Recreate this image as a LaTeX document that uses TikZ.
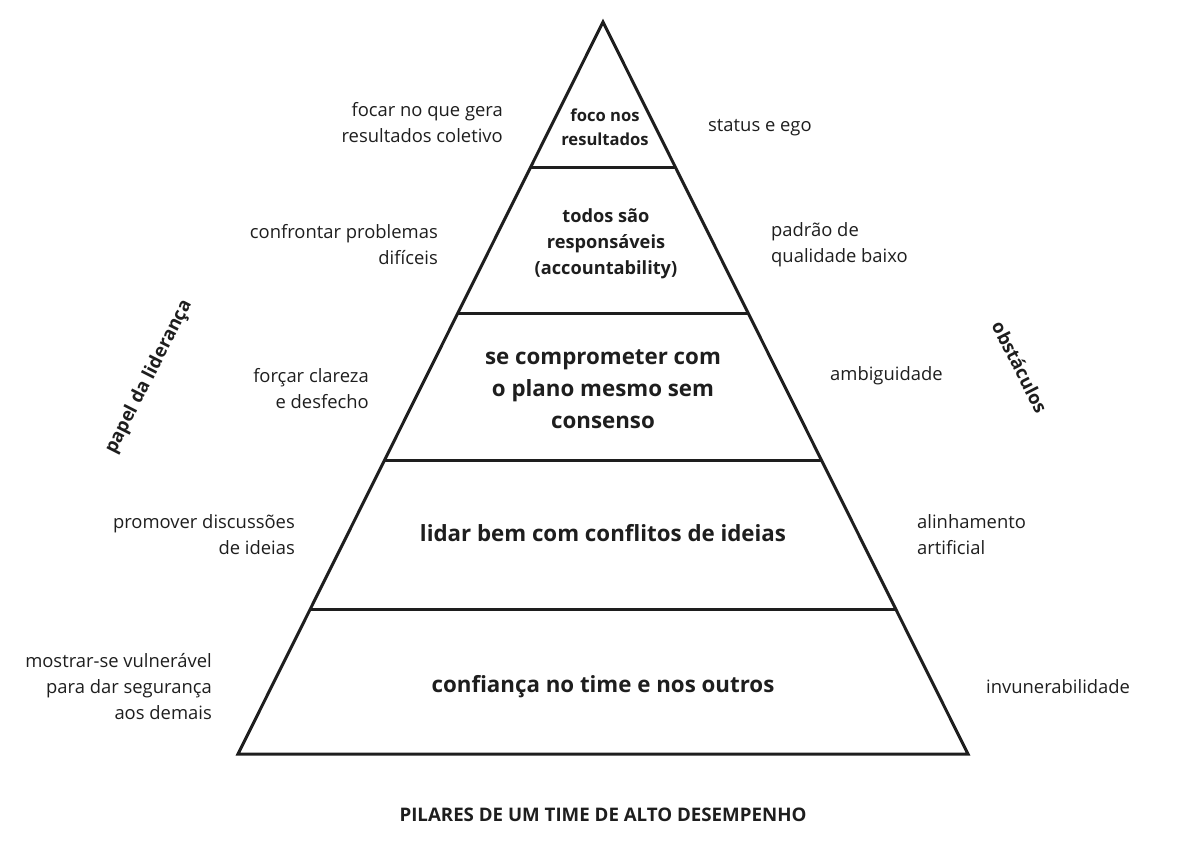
\documentclass[tikz,border=0pt]{standalone}
\usepackage{fontspec}
\setmainfont{Open Sans}
\usetikzlibrary{calc}
\definecolor{ink}{HTML}{1E1E1E}
\begin{document}
\begin{tikzpicture}[x=1pt,y=-1pt,
  side/.style={font=\fontsize{18.4}{26}\selectfont, text=ink, inner sep=0pt},
  sideR/.style={side, align=right, anchor=east},
  sideL/.style={side, align=left, anchor=west},
  tier/.style={font=\bfseries\fontsize{22.3}{32}\selectfont, text=ink, align=center, inner sep=0pt},
  tiermid/.style={font=\bfseries\fontsize{18.2}{26}\selectfont, text=ink, align=center, inner sep=0pt},
  tiersmall/.style={font=\bfseries\fontsize{16.6}{24}\selectfont, text=ink, align=center, inner sep=0pt},
  axis/.style={font=\bfseries\fontsize{18.5}{20}\selectfont, text=ink, inner sep=0pt},
  edge/.style={draw=ink, line width=3pt, line join=miter}]
\useasboundingbox (0,0) rectangle (1187,841);
\coordinate (A) at (603,22);
\coordinate (BL) at (238,754);
\coordinate (BR) at (968,754);
\draw[edge] (A) -- (BL) -- (BR) -- cycle;
% horizontal dividers
\foreach \y/\n in {168/a,313/b,461/c,609/d}{
  \coordinate (L\n) at ($(A)!{(\y-22)/732}!(BL)$);
  \coordinate (R\n) at ($(A)!{(\y-22)/732}!(BR)$);
  \draw[edge] (L\n) -- (R\n);
}
% tiers
\node[tiersmall] (t1) at (605,127) {foco nos\\resultados};
\node[tiermid] (t2) at (606,244) {todos são\\responsáveis\\(accountability)};
\node[tier] (t3) at (603,389) {se comprometer com\\o plano mesmo sem\\consenso};
\node[tier] (t4) at (603,533) {lidar bem com conflitos de ideias};
\node[tier] (t5) at (603,687) {confiança no time e nos outros};
% left side
\node[sideR] (l1) at (503,123) {focar no que gera\\resultados coletivo};
\node[sideR] (l2) at (438,245) {confrontar problemas\\difíceis};
\node[sideR] (l3) at (369,389) {forçar clareza\\e desfecho};
\node[sideR] (l4) at (295,535) {promover discussões\\de ideias};
\node[sideR] (l5) at (212,687) {mostrar-se vulnerável\\para dar segurança\\aos demais};
% right side
\node[sideL] (r1) at (708,128) {status e ego};
\node[sideL] (r2) at (771,245) {padrão de\\qualidade baixo};
\node[sideL] (r3) at (830,376) {ambiguidade};
\node[sideL] (r4) at (917,535) {alinhamento\\artificial};
\node[sideL] (r5) at (986,687) {invunerabilidade};
% axis labels
\node[axis, rotate=63] (ll) at (149,377) {papel da liderança};
\node[axis, rotate=-63] (rl) at (1020,367) {obstáculos};
% title
\node[font=\bfseries\fontsize{18.7}{20}\selectfont, text=ink, inner sep=0pt] (title) at (603,815) {PILARES DE UM TIME DE ALTO DESEMPENHO};
\end{tikzpicture}
\end{document}
